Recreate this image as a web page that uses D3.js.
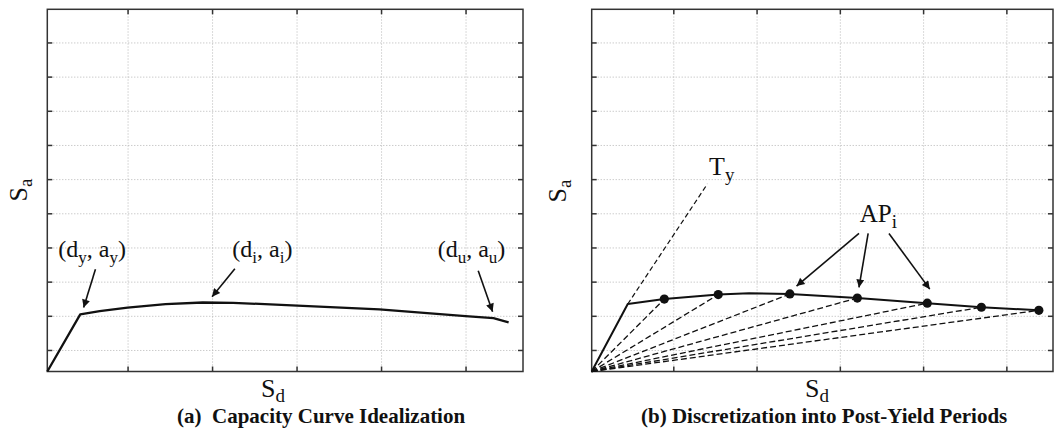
<!DOCTYPE html>
<html>
<head>
<meta charset="utf-8">
<script src="https://cdn.jsdelivr.net/npm/d3@7"></script>
<style>
body { margin: 0; background: #fff; }
text { font-family: "Liberation Serif", "Times New Roman", serif; fill: #111; }
.grid line { stroke: #b5b5b5; stroke-width: 1; stroke-dasharray: 1,2; }
.grid path, .tk path { display: none; }
.tk line { stroke: #333; stroke-width: 1.5; }
</style>
</head>
<body>
<div id="chart"></div>
<script>
// tick positions (no labels shown in the figure)
var xTicksA = [0.95, 1.95, 2.95, 3.95, 4.95];
var xTicksB = [0.98, 1.98, 2.98, 3.98, 4.98];
var yTicks = [0.63, 1.63, 2.63, 3.63, 4.63, 5.63, 6.63, 7.63, 8.63, 9.63];

// (a) idealized capacity curve
var capSd = [0, 0.39, 0.62, 0.95, 1.40, 1.84, 2.20, 2.96, 3.93, 4.95, 5.28, 5.46];
var capSa = [0, 1.67, 1.77, 1.87, 1.97, 2.02, 2.01, 1.93, 1.82, 1.62, 1.56, 1.44];

// (b) discretized curve and post-yield points AP_i
var discSd = [0, 0.433, 0.872, 1.52, 1.89, 2.38, 3.19, 4.03, 4.68, 5.37];
var discSa = [0, 1.975, 2.12, 2.25, 2.29, 2.27, 2.15, 2.00, 1.88, 1.79];
var apSd = [0.872, 1.52, 2.38, 3.19, 4.03, 4.68, 5.37];
var apSa = [2.12, 2.25, 2.27, 2.15, 2.00, 1.88, 1.79];
var tyEnd = [1.39, 5.49];

var width = 1059, height = 442, yMax = 10.6;

var svg = d3.select('#chart').append('svg')
  .attr('width', width)
  .attr('height', height);

svg.append('defs').append('marker')
  .attr('id', 'arr')
  .attr('viewBox', '0 0 10 10')
  .attr('refX', 10).attr('refY', 5)
  .attr('markerWidth', 11).attr('markerHeight', 8)
  .attr('markerUnits', 'userSpaceOnUse')
  .attr('orient', 'auto')
  .append('path').attr('d', 'M0,0L10,5L0,10Z').attr('fill', '#111');

function panel(p) {
  var w = p.right - p.left, h = p.bottom - p.top;
  var g = svg.append('g').attr('transform', `translate(${p.left},${p.top})`);
  var x = d3.scaleLinear().domain([0, p.xMax]).range([0, w]);
  var y = d3.scaleLinear().domain([0, yMax]).range([h, 0]);

  // dotted grid
  g.append('g').attr('class', 'grid')
    .attr('transform', `translate(0,${h})`)
    .call(d3.axisBottom(x).tickValues(p.xTicks).tickSize(-h).tickFormat(''));
  g.append('g').attr('class', 'grid')
    .call(d3.axisLeft(y).tickValues(yTicks).tickSize(-w).tickFormat(''));

  // inward ticks on all four sides
  g.append('g').attr('class', 'tk').attr('transform', `translate(0,${h})`)
    .call(d3.axisBottom(x).tickValues(p.xTicks).tickSize(-5).tickFormat(''));
  g.append('g').attr('class', 'tk')
    .call(d3.axisTop(x).tickValues(p.xTicks).tickSize(-5).tickFormat(''));
  g.append('g').attr('class', 'tk')
    .call(d3.axisLeft(y).tickValues(yTicks).tickSize(-5).tickFormat(''));
  g.append('g').attr('class', 'tk').attr('transform', `translate(${w},0)`)
    .call(d3.axisRight(y).tickValues(yTicks).tickSize(-5).tickFormat(''));

  g.append('rect')
    .attr('width', w).attr('height', h)
    .attr('fill', 'none').attr('stroke', '#333').attr('stroke-width', 1.5);

  return {g: g, x: x, y: y, w: w, h: h};
}

function subText(sel, parts, size, subSize, shift) {
  // parts: [text, isSub]
  shift = shift || 6;
  parts.forEach(function(pt, i) {
    var prev = i > 0 ? parts[i - 1][1] : false;
    var dy = pt[1] && !prev ? shift : (!pt[1] && prev ? -shift : 0);
    sel.append('tspan')
      .attr('dy', dy)
      .style('font-size', (pt[1] ? subSize : size) + 'px')
      .text(pt[0]);
  });
}

function arrow(P, x0, y0, x1, y1) {
  P.g.append('line')
    .attr('x1', P.x(x0)).attr('y1', P.y(y0))
    .attr('x2', P.x(x1)).attr('y2', P.y(y1))
    .attr('stroke', '#111').attr('stroke-width', 1.6)
    .attr('marker-end', 'url(#arr)');
}

var line = function(P) {
  return d3.line().x(d => P.x(d[0])).y(d => P.y(d[1]));
};

// ---------- panel (a)
var A = panel({left: 47.3, right: 523, top: 9.3, bottom: 371.5, xMax: 5.63, xTicks: xTicksA});

A.g.append('path')
  .datum(d3.zip(capSd, capSa))
  .attr('d', line(A))
  .attr('fill', 'none').attr('stroke', '#111').attr('stroke-width', 2.3)
  .attr('stroke-linejoin', 'round');

arrow(A, 0.57, 2.99, 0.43, 1.87);
arrow(A, 2.22, 3.01, 1.95, 2.19);
arrow(A, 5.10, 2.95, 5.27, 1.75);

[[0.13, '(d', 'y', ', a', 'y', ')'],
 [2.19, '(d', 'i', ', a', 'i', ')'],
 [4.62, '(d', 'u', ', a', 'u', ')']].forEach(function(l) {
  var t = A.g.append('text').attr('x', A.x(l[0])).attr('y', A.y(3.35));
  subText(t, [[l[1], false], [l[2], true], [l[3], false], [l[4], true], [l[5], false]], 24, 17);
});

// ---------- panel (b)
var B = panel({left: 591.7, right: 1053, top: 9.3, bottom: 371.5, xMax: 5.54, xTicks: xTicksB});

B.g.append('line')
  .attr('x1', B.x(discSd[1])).attr('y1', B.y(discSa[1]))
  .attr('x2', B.x(tyEnd[0])).attr('y2', B.y(tyEnd[1]))
  .attr('stroke', '#111').attr('stroke-width', 1.2).attr('stroke-dasharray', '5,3');

B.g.selectAll('.sec')
  .data(d3.zip(apSd, apSa))
  .enter().append('line')
  .attr('class', 'sec')
  .attr('x1', B.x(0)).attr('y1', B.y(0))
  .attr('x2', d => B.x(d[0])).attr('y2', d => B.y(d[1]))
  .attr('stroke', '#111').attr('stroke-width', 1.3).attr('stroke-dasharray', '6,3');

B.g.append('path')
  .datum(d3.zip(discSd, discSa))
  .attr('d', line(B))
  .attr('fill', 'none').attr('stroke', '#111').attr('stroke-width', 2)
  .attr('stroke-linejoin', 'round');

B.g.selectAll('.ap')
  .data(d3.zip(apSd, apSa))
  .enter().append('circle')
  .attr('class', 'ap')
  .attr('cx', d => B.x(d[0])).attr('cy', d => B.y(d[1]))
  .attr('r', 4.6).attr('fill', '#111');

var ty = B.g.append('text').attr('x', B.x(1.41)).attr('y', B.y(5.75));
subText(ty, [['T', false], ['y', true]], 26, 19);
var ap = B.g.append('text').attr('x', B.x(3.22)).attr('y', B.y(4.38));
subText(ap, [['AP', false], ['i', true]], 25, 19);

arrow(B, 3.21, 4.04, 2.46, 2.50);
arrow(B, 3.32, 4.04, 3.21, 2.46);
arrow(B, 3.57, 4.04, 4.06, 2.41);

// ---------- axis titles and captions
[[27, 190], [566, 191]].forEach(function(c) {
  var t = svg.append('text')
    .attr('transform', `translate(${c[0]},${c[1]}) rotate(-90)`)
    .attr('text-anchor', 'middle');
  subText(t, [['S', false], ['a', true]], 26, 19, 5);
});
[[261, 397], [805, 397]].forEach(function(c) {
  var t = svg.append('text').attr('x', c[0]).attr('y', c[1]);
  subText(t, [['S', false], ['d', true]], 26, 19, 5);
});

svg.append('text').attr('x', 177).attr('y', 423)
  .style('font-size', '21px').style('font-weight', 'bold')
  .attr('xml:space', 'preserve')
  .text('(a)  Capacity Curve Idealization');
svg.append('text').attr('x', 641).attr('y', 423)
  .style('font-size', '21px').style('font-weight', 'bold')
  .text('(b) Discretization into Post-Yield Periods');
</script>
</body>
</html>
